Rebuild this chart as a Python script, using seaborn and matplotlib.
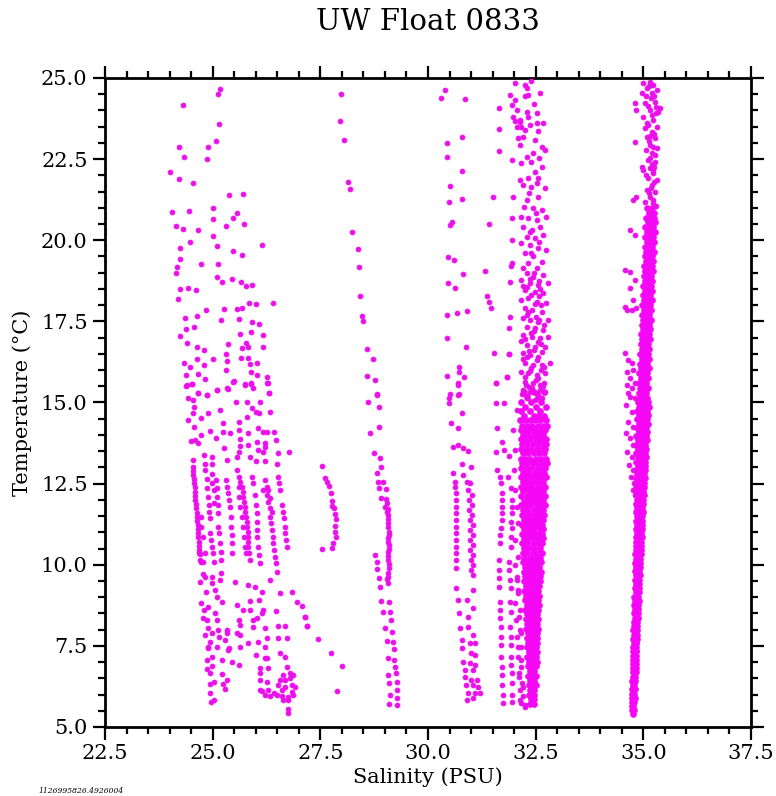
import matplotlib
matplotlib.use('Agg')
import matplotlib.pyplot as plt
import pandas as pd
import seaborn as sns
from matplotlib.ticker import MultipleLocator, FormatStrFormatter

# ----- values: (salinity PSU, temperature C) -----

# fresh profiles, 24-27 PSU, upper part
group_a_top = [
    (25.17, 24.65), (25.12, 24.50), (24.30, 24.17), (25.15, 23.58), (25.07, 23.07),
    (24.21, 22.86), (24.90, 22.86), (24.33, 22.56), (24.88, 22.49), (24.01, 22.10),
    (24.21, 21.88), (24.54, 21.75), (25.38, 21.39), (25.71, 21.43), (24.06, 20.88),
    (24.44, 20.90), (25.01, 21.00), (25.01, 20.65), (25.57, 20.83), (25.47, 20.70),
    (25.31, 20.44), (25.73, 20.51), (24.14, 20.45), (24.30, 20.35), (24.67, 20.32),
    (25.01, 20.14), (24.48, 19.95), (25.09, 19.82), (26.15, 19.86), (24.23, 19.77),
    (25.47, 19.66), (25.67, 19.56), (24.23, 19.42), (24.73, 19.28), (25.12, 19.27),
    (24.18, 19.19), (24.16, 19.00), (25.10, 18.86), (25.21, 18.70), (25.46, 18.82),
    (25.66, 18.71), (25.78, 18.58), (25.91, 18.62), (24.25, 18.49), (24.43, 18.54),
    (24.62, 18.47), (24.19, 18.19), (25.85, 18.08), (26.00, 18.03), (26.40, 18.07),
    (24.84, 17.86), (25.26, 17.89), (25.57, 17.87), (25.67, 17.90), (24.36, 17.60),
    (24.64, 17.68), (25.19, 17.54), (25.60, 17.56), (24.38, 17.26), (24.56, 17.34),
    (25.91, 17.48), (26.08, 17.43), (24.25, 17.05), (25.63, 17.11), (25.88, 17.18),
    (26.18, 17.07), (24.40, 16.82), (25.35, 16.80), (25.77, 16.84), (24.63, 16.70),
    (24.80, 16.62), (25.68, 16.69), (25.82, 16.71), (26.18, 16.72), (25.32, 16.49),
    (24.63, 16.35), (25.00, 16.33), (25.33, 16.29), (25.66, 16.38), (25.83, 16.37),
    (24.33, 16.21), (24.47, 16.08), (24.81, 16.15), (25.32, 16.01), (25.87, 16.19),
    (26.02, 16.23), (24.37, 15.86), (24.65, 15.87), (25.88, 15.95), (26.04, 15.85),
    (26.25, 15.78), (24.83, 15.73), (24.39, 15.50), (24.51, 15.56), (25.49, 15.66),
    (25.74, 15.56), (25.90, 15.61), (26.29, 15.60), (25.94, 15.44), (24.66, 15.28),
    (24.88, 15.24), (25.09, 15.39), (25.35, 15.41), (26.31, 15.30),
    (24.40, 15.54), (24.51, 15.57), (24.67, 15.28), (24.88, 15.23), (25.09, 15.40),
    (25.34, 15.44), (25.48, 15.64), (25.74, 15.54), (25.89, 15.57), (26.25, 15.59),
    (24.43, 15.13), (24.55, 15.08), (25.54, 15.03), (25.79, 15.03), (26.11, 15.03),
    (26.31, 15.28), (24.57, 14.85), (25.17, 14.77), (25.91, 14.82), (26.01, 14.72),
    (26.08, 14.67), (26.33, 14.72), (24.55, 14.67), (24.74, 14.51), (24.90, 14.67),
    (24.43, 14.46), (25.23, 14.38), (25.60, 14.41), (25.79, 14.56), (24.57, 14.25),
    (25.23, 14.10), (25.40, 14.05), (25.60, 14.15), (25.81, 14.05), (26.06, 14.20),
    (26.18, 14.10), (26.27, 14.08), (26.43, 14.10), (24.94, 14.13), (24.74, 14.00),
    (24.49, 13.81), (24.60, 13.84), (24.65, 13.74), (25.07, 13.90), (25.63, 13.86),
    (26.02, 13.79), (26.22, 13.74), (26.47, 13.84), (24.81, 13.38), (24.98, 13.33),
    (25.27, 13.59), (25.63, 13.66), (25.83, 13.69), (26.05, 13.54), (26.18, 13.48),
    (26.22, 13.64), (26.52, 13.43), (26.77, 13.48), (25.62, 13.48), (24.55, 13.23),
    (24.82, 13.12), (24.98, 13.10), (25.33, 13.23), (25.56, 13.33), (25.87, 13.33),
    (26.01, 13.20), (26.22, 13.20), (26.50, 13.10),
]

# the vertical streaks of those profiles, 10-13 C
group_a_mid = [
    (24.54, 13.02), (24.55, 12.90), (24.55, 12.77), (24.56, 12.63), (24.57, 12.51),
    (24.58, 12.39), (24.58, 12.25), (24.59, 12.12), (24.60, 11.99), (24.61, 11.87),
    (24.62, 11.74), (24.63, 11.60), (24.64, 11.48), (24.64, 11.36), (24.65, 11.22),
    (24.66, 11.09), (24.66, 10.97), (24.67, 10.84), (24.68, 10.71), (24.68, 10.58),
    (24.69, 10.45), (24.70, 10.33), (24.70, 10.15), (24.72, 11.48), (24.74, 11.17),
    (24.77, 10.87), (24.68, 10.35), (24.72, 10.09),
    (24.82, 12.92), (24.98, 12.80), (24.86, 12.63), (24.98, 12.53), (24.88, 12.35),
    (25.02, 12.30), (24.90, 12.10), (24.92, 11.84), (25.03, 11.89), (24.92, 11.64),
    (24.94, 11.43), (24.94, 10.97), (24.96, 10.76), (24.98, 10.56), (25.00, 10.35),
    (25.02, 10.09), (24.82, 10.35), (24.78, 10.09),
    (25.07, 12.61), (25.09, 12.35), (25.11, 12.10), (25.12, 11.84), (25.13, 11.58),
    (25.13, 11.17), (25.15, 10.97), (25.17, 10.66), (25.19, 10.40), (25.19, 10.15),
    (25.31, 12.61), (25.34, 12.41), (25.36, 12.20), (25.39, 11.99), (25.40, 11.79),
    (25.42, 11.48), (25.42, 11.17), (25.44, 10.92), (25.44, 10.66), (25.44, 10.35),
    (25.57, 12.92), (25.60, 12.71), (25.63, 12.56), (25.67, 12.41), (25.70, 12.25),
    (25.71, 12.10), (25.73, 11.94), (25.74, 11.79), (25.76, 11.64), (25.77, 11.48),
    (25.79, 11.33), (25.79, 11.17), (25.81, 11.02), (25.81, 10.87), (25.82, 10.71),
    (25.83, 10.56), (25.85, 10.35), (25.87, 10.15), (25.60, 12.41), (25.62, 12.10),
    (25.63, 11.79), (25.67, 11.48), (25.70, 11.17), (25.73, 10.87), (25.75, 10.56),
    (25.77, 10.35),
    (25.91, 12.71), (25.94, 12.51), (25.98, 12.15), (26.01, 11.84), (26.02, 11.58),
    (26.02, 11.33), (26.04, 11.07), (26.04, 10.87), (26.06, 10.56), (26.08, 10.30),
    (26.10, 10.04), (26.16, 12.30),
    (26.22, 12.61), (26.25, 12.41), (26.27, 12.15), (26.29, 11.94), (26.32, 11.74),
    (26.33, 11.48), (26.35, 11.28), (26.37, 11.07), (26.39, 10.87), (26.41, 10.66),
    (26.42, 10.45), (26.45, 10.25), (26.47, 10.04), (26.49, 9.79), (26.29, 12.30),
    (26.33, 12.05), (26.37, 11.64),
    (26.52, 12.71), (26.55, 12.51), (26.56, 12.30), (26.60, 11.84), (26.64, 11.64),
    (26.66, 11.43), (26.68, 11.17), (26.68, 10.97), (26.70, 10.76), (26.72, 10.56),
]

# same profiles below 10 C
group_a_low = [
    (24.71, 9.48), (24.82, 9.63), (24.98, 9.63), (25.19, 9.74), (25.52, 9.48),
    (25.83, 9.38), (25.98, 9.32), (26.14, 9.17), (26.33, 9.53), (26.56, 9.12),
    (26.84, 9.17), (24.85, 9.15), (25.05, 9.22), (25.21, 8.86), (25.56, 8.76),
    (25.87, 8.89), (26.08, 8.91), (26.18, 8.61), (26.47, 8.57), (26.95, 8.86),
    (27.07, 8.73), (24.74, 8.81), (24.81, 8.61), (24.78, 8.35), (25.09, 8.30),
    (25.33, 7.99), (25.63, 8.14), (25.94, 8.09), (26.04, 8.35), (26.22, 8.04),
    (26.52, 8.11), (26.68, 8.11), (27.14, 8.38), (27.18, 8.11), (24.90, 8.04),
    (24.82, 7.84), (24.94, 7.63), (25.15, 7.78), (25.33, 7.89), (25.63, 7.84),
    (25.83, 7.58), (26.06, 7.63), (26.25, 7.73), (26.52, 7.73), (26.72, 7.73),
    (24.90, 7.42), (25.38, 7.42), (26.01, 7.22), (26.22, 7.12), (26.56, 7.27),
    (26.68, 7.17), (24.98, 7.17), (24.88, 6.78), (24.98, 6.88), (25.21, 6.63),
    (25.44, 7.01), (25.60, 6.91), (26.10, 6.81), (26.29, 6.81), (26.64, 6.60),
    (26.86, 6.60), (24.94, 6.33), (25.23, 6.33), (25.29, 6.16), (26.10, 6.45),
    (26.27, 6.40), (26.52, 6.29), (26.68, 6.24), (26.84, 6.29), (26.56, 6.45),
    (26.80, 6.50), (24.94, 6.04), (24.96, 5.78), (25.02, 5.83), (26.14, 6.12),
    (26.22, 5.99), (26.33, 5.96), (26.49, 5.99), (26.60, 5.96), (26.74, 5.83),
    (26.74, 5.57), (26.74, 5.42), (26.87, 5.99), (26.91, 6.24),
    (24.78, 9.73), (24.98, 9.43), (25.09, 9.02), (25.17, 9.53), (24.90, 8.71),
    (25.05, 8.50), (25.13, 7.99), (24.86, 8.30), (24.98, 7.89), (24.90, 7.48),
    (25.09, 7.48), (24.86, 7.06), (25.21, 7.06), (24.94, 6.65), (25.02, 6.40),
    (25.33, 6.45), (25.36, 7.37), (25.29, 7.68), (25.60, 8.30), (25.71, 8.61),
    (25.57, 7.89), (25.63, 7.48), (25.87, 8.61), (25.94, 8.30), (26.14, 8.50),
    (26.22, 7.48), (26.25, 7.12), (26.10, 6.65), (26.10, 6.14), (26.29, 6.14),
    (26.42, 6.04), (26.60, 6.14), (26.68, 6.45), (26.72, 6.86), (26.80, 6.65),
    (26.64, 5.83), (26.84, 6.09), (26.76, 5.93),
]

# short arc near 27.7 PSU and loose points below it
group_b = [
    (27.53, 13.04), (27.61, 12.68), (27.65, 12.55), (27.69, 12.43), (27.74, 12.20),
    (27.78, 11.95), (27.76, 11.81), (27.82, 11.74), (27.83, 11.55), (27.86, 11.40),
    (27.85, 11.20), (27.84, 11.02), (27.86, 10.87), (27.80, 10.66), (27.78, 10.51),
    (27.55, 10.48), (27.14, 8.40), (27.20, 8.11), (27.45, 7.70), (27.75, 7.29),
    (28.01, 6.88), (27.88, 6.12),
]

# profile from 28 to 29.3 PSU
group_c = [
    (27.99, 24.50), (27.96, 23.67), (28.06, 23.09), (28.14, 21.80), (28.19, 21.57),
    (28.24, 20.26), (28.38, 19.73), (28.39, 19.17), (28.42, 18.28), (28.46, 17.67),
    (28.48, 17.51), (28.58, 16.65), (28.72, 16.34), (28.58, 15.82), (28.78, 15.69),
    (28.82, 15.25), (28.61, 15.03), (28.82, 15.23), (28.86, 14.85), (28.66, 14.07),
    (28.86, 14.23), (28.75, 13.45), (28.89, 13.28), (28.92, 13.02), (28.81, 12.84),
    (28.85, 12.56), (28.96, 12.56), (28.86, 12.35), (29.02, 12.33), (28.92, 12.05),
    (29.02, 12.02), (29.00, 11.79), (29.06, 11.71), (29.08, 11.53), (29.08, 11.28),
    (29.09, 11.02), (29.08, 10.81), (29.10, 10.61), (29.08, 10.40), (29.08, 10.15),
    (29.09, 9.89), (29.08, 9.63), (29.08, 9.45), (28.77, 10.30), (28.81, 10.09),
    (28.82, 9.86), (28.86, 9.58), (28.89, 9.32), (28.92, 8.89), (28.96, 8.55),
    (29.10, 8.86), (29.12, 8.55), (29.13, 8.30), (29.00, 8.04), (29.16, 7.94),
    (29.18, 7.63), (29.04, 7.65), (29.21, 7.39), (29.06, 7.14), (29.22, 7.06),
    (29.23, 6.84), (29.08, 6.60), (29.26, 6.65), (29.27, 6.40), (29.10, 6.35),
    (29.29, 6.14), (29.12, 5.98), (29.29, 5.88), (29.10, 5.71), (29.27, 5.68),
    (29.04, 11.90), (29.05, 11.62), (29.07, 11.40), (29.06, 11.15), (29.09, 10.92),
    (29.07, 10.70), (29.09, 10.50), (29.07, 10.27), (29.10, 10.02), (29.07, 9.76),
    (29.05, 9.55),
]

# profiles from 30.3 to 31.2 PSU
group_d = [
    (30.39, 24.63), (30.30, 24.39), (30.87, 24.34), (30.80, 23.19), (30.43, 23.00),
    (30.43, 22.56), (30.80, 22.13), (30.51, 21.68), (30.80, 21.26), (30.49, 21.19),
    (30.55, 20.55), (30.50, 20.46), (30.47, 19.49), (30.60, 19.39), (30.82, 18.96),
    (30.47, 18.69), (30.63, 18.52), (30.45, 17.70), (30.67, 17.75), (30.91, 17.82),
    (30.43, 17.00), (30.88, 16.70), (30.73, 16.10), (30.73, 15.95), (30.45, 15.82),
    (30.84, 15.79), (30.70, 15.59), (30.71, 15.25), (30.50, 15.25),
    (30.49, 15.13), (30.49, 14.97), (30.70, 15.54), (30.70, 15.23), (30.80, 14.67),
    (30.53, 14.38), (30.70, 14.20), (30.57, 13.64), (30.70, 13.69), (30.82, 13.59),
    (30.92, 13.49), (30.78, 13.12), (30.99, 13.02), (30.59, 12.82), (30.82, 12.77),
    (30.63, 12.56), (30.90, 12.56), (30.98, 12.51),
    (30.63, 12.41), (30.64, 12.20), (30.64, 11.99), (30.64, 11.79), (30.65, 11.58),
    (30.65, 11.38), (30.65, 11.17), (30.65, 10.97), (30.66, 10.76), (30.66, 10.56),
    (30.66, 10.35), (30.66, 10.15), (30.66, 9.90),
    (30.93, 12.30), (31.02, 12.15), (30.95, 11.99), (31.03, 11.84), (30.96, 11.69),
    (31.03, 11.53), (30.97, 11.38), (31.04, 11.22), (30.97, 11.07), (31.04, 10.92),
    (30.98, 10.76), (31.05, 10.61), (30.98, 10.45), (31.05, 10.30), (30.99, 10.15),
    (31.05, 9.99), (30.99, 9.84), (31.05, 9.68),
    (30.66, 9.27), (31.05, 9.22), (30.70, 8.91), (30.90, 8.91), (30.73, 8.50),
    (31.04, 8.66), (30.94, 8.40), (30.74, 8.04), (30.94, 8.09), (31.04, 7.84),
    (30.78, 7.68), (30.97, 7.58), (31.09, 7.58), (30.78, 7.42), (30.99, 7.27),
    (31.09, 7.22), (30.82, 7.01), (30.97, 6.96), (31.09, 6.91), (30.86, 6.76),
    (31.05, 6.76), (30.86, 6.55), (30.99, 6.45), (31.13, 6.45), (30.88, 6.29),
    (31.05, 6.29), (31.17, 6.24), (30.94, 6.04), (31.09, 6.04), (31.21, 6.04),
    (30.90, 5.83), (31.05, 5.88),
]

# profiles from 31.3 to 31.95 PSU
group_e = [
    (31.64, 24.07), (31.64, 23.42), (31.64, 22.75), (31.50, 21.34), (31.42, 20.49),
    (31.33, 19.04), (31.38, 18.28), (31.41, 18.11), (31.46, 17.92), (31.87, 17.29),
    (31.54, 16.52), (31.87, 16.49), (31.84, 15.80), (31.59, 15.61),
    (31.59, 15.59), (31.58, 14.99), (31.77, 14.99), (31.61, 14.20), (31.71, 13.79),
    (31.59, 13.48), (31.77, 13.54), (31.89, 13.35), (31.61, 12.92), (31.67, 12.71),
    (31.86, 12.69), (31.69, 12.51), (31.92, 12.35), (31.71, 12.20), (31.71, 11.99),
    (31.94, 11.99), (31.71, 11.79), (31.94, 11.79), (31.71, 11.58), (31.94, 11.58),
    (31.71, 11.38), (31.92, 11.33), (31.70, 11.12), (31.94, 11.12), (31.67, 10.92),
    (31.92, 10.87), (31.67, 10.66), (31.92, 10.56), (31.66, 10.15), (31.89, 10.09),
    (31.66, 9.84), (31.89, 9.84), (31.66, 9.58), (31.90, 9.53), (31.66, 9.32),
    (31.92, 9.27), (31.67, 8.86), (31.90, 8.86), (31.67, 8.61), (31.92, 8.55),
    (31.67, 8.35), (31.90, 8.09), (31.69, 8.09), (31.70, 7.78), (31.92, 7.78),
    (31.70, 7.53), (31.92, 7.53), (31.70, 7.17), (31.92, 7.17), (31.71, 6.86),
    (31.92, 6.91), (31.71, 6.60), (31.94, 6.65), (31.71, 6.29), (31.94, 6.35),
    (31.73, 5.99), (31.94, 5.99), (31.73, 5.73), (31.94, 5.78),
]

# 32.5 PSU column, upper part and loose points at its left edge
group_f_top = [
    (32.25, 24.78), (32.29, 24.68), (32.02, 24.84), (32.33, 24.48), (31.90, 24.48),
    (31.94, 24.17), (32.06, 24.01), (31.98, 23.81), (32.02, 23.69), (32.14, 23.65),
    (32.29, 23.96), (32.33, 23.81), (32.52, 23.91), (32.68, 23.60), (32.17, 23.50),
    (32.37, 23.55), (32.52, 23.60), (32.56, 23.38), (32.25, 23.40), (32.10, 23.14),
    (32.14, 22.94), (32.21, 23.19), (32.64, 22.88), (32.72, 22.78), (32.29, 22.58),
    (32.17, 22.37), (31.94, 22.47), (32.64, 22.27), (32.25, 24.43), (32.02, 24.32),
    (32.14, 23.70), (32.06, 23.50), (32.40, 24.90), (32.45, 24.20), (32.60, 24.55),
    (32.44, 22.70), (32.48, 23.10),
    (32.48, 22.11), (32.14, 21.86), (32.33, 21.91), (32.56, 21.91), (32.21, 21.70),
    (32.39, 21.65), (32.72, 21.60), (31.98, 21.34), (32.29, 21.24), (32.56, 21.34),
    (32.24, 21.04), (32.44, 20.98), (32.64, 20.93), (32.17, 20.73), (32.33, 20.68),
    (32.52, 20.62), (32.75, 20.73), (31.94, 20.68), (32.21, 20.42), (32.41, 20.32),
    (32.60, 20.42), (32.29, 20.11), (32.48, 20.06), (32.68, 20.16), (32.17, 19.90),
    (32.37, 19.85), (32.56, 19.75), (32.75, 19.70), (32.25, 19.60), (32.44, 19.50),
    (31.94, 19.29), (32.33, 19.29), (32.64, 19.34), (32.21, 19.14), (32.52, 19.14),
    (31.96, 20.00), (31.93, 19.22), (31.90, 18.72),
    (32.29, 18.98), (32.44, 18.88), (32.68, 18.93), (32.17, 18.77), (32.37, 18.67),
    (32.56, 18.62), (32.79, 18.67), (32.25, 18.47), (32.48, 18.42), (32.68, 18.36),
    (32.17, 18.16), (32.33, 18.21), (32.52, 18.11), (32.75, 18.06), (32.25, 17.90),
    (32.41, 17.85), (32.64, 17.80), (31.90, 17.65), (32.21, 17.59), (32.37, 17.54),
    (32.56, 17.49), (32.79, 17.54), (32.29, 17.34), (32.48, 17.29), (32.68, 17.24),
    (32.21, 17.08), (32.41, 17.03), (32.60, 16.98), (32.79, 17.03), (31.87, 16.51),
    (32.29, 16.77), (32.48, 16.72), (32.72, 16.72), (32.21, 16.52), (32.37, 16.47),
    (32.56, 16.41), (32.25, 16.21), (32.44, 16.16), (32.64, 16.16), (32.83, 16.21),
    (32.17, 15.95), (32.33, 15.90), (32.52, 15.85), (32.72, 15.90), (31.83, 15.80),
    (32.25, 15.64), (32.44, 15.59), (32.60, 15.54), (32.21, 15.39), (32.37, 15.33),
    (32.52, 15.28), (32.72, 15.33), (32.29, 15.13), (32.48, 15.08), (32.64, 15.13),
    (32.36, 18.80), (32.58, 18.75), (32.20, 18.60), (32.60, 18.50), (32.40, 18.30),
    (32.62, 18.00), (32.30, 17.70), (32.50, 17.65), (32.70, 17.40), (32.40, 17.15),
    (32.15, 16.90), (32.55, 16.85), (32.35, 16.60), (32.65, 16.55), (32.20, 16.35),
    (32.52, 16.30), (32.40, 16.05), (32.62, 16.00), (32.25, 15.80), (32.50, 15.70),
    (32.70, 15.60), (32.35, 15.47), (32.60, 15.40), (32.18, 15.25),
    (32.30, 15.20), (32.56, 15.22), (32.42, 15.45), (32.66, 15.50), (32.28, 15.55),
    (32.55, 15.75), (32.38, 15.98), (32.70, 16.10), (32.30, 16.40), (32.47, 16.62),
    (32.62, 16.80), (32.26, 16.95), (32.45, 17.20), (32.58, 17.55), (32.33, 17.80),
    (32.49, 18.05), (32.58, 18.28), (32.30, 18.55), (32.47, 19.00), (32.40, 19.60),
    (32.58, 19.95), (32.36, 20.25), (32.50, 20.85), (32.34, 21.45), (32.52, 21.75),
    (32.40, 22.40), (32.58, 22.55),
]

group_f_edge = [
    (32.02, 12.30), (32.06, 11.79), (32.10, 11.28), (32.03, 10.76), (32.08, 10.25),
    (32.06, 9.63), (32.10, 9.22), (32.02, 8.81), (32.11, 8.40), (32.14, 7.99),
    (32.06, 7.78), (32.16, 7.47), (32.10, 7.17), (32.17, 6.86), (32.11, 6.55),
    (32.19, 6.35), (32.14, 6.14), (32.21, 5.94), (32.16, 5.73), (32.25, 5.63),
    (32.02, 13.53), (31.98, 14.15), (32.06, 14.77), (32.00, 12.92), (32.02, 9.99),
    (32.06, 9.53), (32.10, 9.12), (32.14, 8.61), (32.04, 8.30), (32.15, 7.89),
    (32.10, 7.47), (32.17, 7.06), (32.12, 6.65), (32.20, 6.24), (32.14, 5.83),
    (32.25, 5.68),
]

# dense core of the 32.5 PSU column: one temperature per row, salinities in the row
f_core_temp = [
    15.32, 15.18, 15.03, 14.87, 14.74, 14.58, 14.45, 14.29, 14.14, 14.01,
    13.86, 13.71, 13.57, 13.43, 13.27, 13.13, 12.98, 12.84, 12.69, 12.55,
    12.41, 12.26, 12.11, 11.97, 11.83, 11.68, 11.52, 11.39, 11.24, 11.09,
    10.95, 10.81, 10.66, 10.52, 10.37, 10.22,
    10.08, 9.93, 9.78, 9.64, 9.49, 9.35, 9.20, 9.05, 8.91, 8.76,
    8.62, 8.47, 8.32, 8.18, 8.03, 7.89, 7.74, 7.60, 7.45, 7.30,
    7.16, 7.01, 6.87, 6.72, 6.57, 6.43, 6.28, 6.14, 5.99, 5.85, 5.70,
]
f_core_sal = [
    [32.22, 32.47, 32.70],
    [32.30, 32.56],
    [32.17, 32.40, 32.63],
    [32.26, 32.50, 32.74],
    [32.15, 32.38, 32.60],
    [32.22, 32.45, 32.56, 32.69],
    [32.14, 32.25, 32.37, 32.49, 32.61, 32.74],
    [32.19, 32.30, 32.42, 32.55, 32.67, 32.76],
    [32.16, 32.27, 32.39, 32.51, 32.63, 32.72],
    [32.21, 32.33, 32.45, 32.57, 32.68],
    [32.15, 32.26, 32.38, 32.50, 32.62, 32.74],
    [32.19, 32.31, 32.43, 32.55, 32.66, 32.75],
    [32.16, 32.27, 32.40, 32.52, 32.64, 32.72],
    [32.21, 32.33, 32.45, 32.57, 32.69],
    [32.15, 32.26, 32.38, 32.50, 32.62, 32.73],
    [32.19, 32.31, 32.43, 32.56, 32.67, 32.76],
    [32.16, 32.28, 32.40, 32.52, 32.64, 32.72],
    [32.21, 32.33, 32.46, 32.58, 32.69],
    [32.16, 32.27, 32.39, 32.51, 32.63, 32.73],
    [32.20, 32.32, 32.44, 32.56, 32.67],
    [32.17, 32.28, 32.40, 32.52, 32.64, 32.72],
    [32.21, 32.34, 32.46, 32.58, 32.68],
    [32.17, 32.29, 32.41, 32.53, 32.65, 32.72],
    [32.22, 32.34, 32.46, 32.58, 32.67],
    [32.17, 32.28, 32.40, 32.52, 32.63, 32.71],
    [32.21, 32.33, 32.45, 32.57, 32.67],
    [32.18, 32.29, 32.41, 32.53, 32.64, 32.70],
    [32.22, 32.34, 32.46, 32.58, 32.67],
    [32.18, 32.30, 32.42, 32.54, 32.64],
    [32.23, 32.35, 32.47, 32.59, 32.67],
    [32.19, 32.30, 32.42, 32.54, 32.64],
    [32.22, 32.34, 32.46, 32.58, 32.66],
    [32.19, 32.31, 32.43, 32.55, 32.64],
    [32.23, 32.35, 32.47, 32.59],
    [32.20, 32.31, 32.43, 32.55, 32.64],
    [32.24, 32.36, 32.48, 32.59],
    [32.21, 32.31, 32.42, 32.53, 32.62],
    [32.25, 32.36, 32.47, 32.58],
    [32.22, 32.32, 32.43, 32.54, 32.63],
    [32.26, 32.37, 32.48, 32.59],
    [32.23, 32.33, 32.44, 32.55, 32.60],
    [32.27, 32.38, 32.49, 32.58],
    [32.24, 32.34, 32.45, 32.55],
    [32.28, 32.39, 32.50, 32.58],
    [32.25, 32.35, 32.46, 32.55],
    [32.29, 32.40, 32.51, 32.57],
    [32.26, 32.36, 32.47, 32.55],
    [32.30, 32.41, 32.52],
    [32.27, 32.37, 32.48, 32.56],
    [32.31, 32.42, 32.53],
    [32.28, 32.38, 32.49, 32.55],
    [32.32, 32.43, 32.53],
    [32.29, 32.39, 32.50, 32.54],
    [32.33, 32.44, 32.53],
    [32.30, 32.40, 32.51],
    [32.34, 32.45, 32.53],
    [32.31, 32.41, 32.51],
    [32.35, 32.46, 32.52],
    [32.32, 32.42, 32.51],
    [32.36, 32.47],
    [32.33, 32.43, 32.50],
    [32.37, 32.47],
    [32.34, 32.44, 32.50],
    [32.38, 32.47],
    [32.35, 32.45],
    [32.39, 32.47],
    [32.37, 32.45],
]

# 35 PSU column, upper part and loose points on its left side
group_g_top = [
    (35.00, 24.84), (35.15, 24.89), (35.23, 24.78), (35.08, 24.68), (35.31, 24.63),
    (34.96, 24.53), (35.19, 24.53), (35.06, 24.43), (35.04, 24.22), (35.27, 24.27),
    (35.39, 24.07), (35.15, 24.02), (35.29, 23.91), (35.00, 23.81), (35.23, 23.71),
    (35.11, 23.55), (35.31, 23.50), (35.04, 23.45), (35.19, 23.35), (35.08, 23.19),
    (35.27, 23.14), (35.15, 22.94), (35.22, 22.88), (35.31, 22.83), (35.06, 22.78),
    (35.19, 22.68), (35.11, 22.47), (35.27, 22.42), (35.25, 22.27), (35.15, 22.22),
    (35.00, 22.17), (35.23, 22.06), (35.11, 21.91), (35.31, 21.86), (35.19, 21.70),
    (35.17, 21.60), (35.08, 21.55), (35.27, 21.50), (35.15, 21.34), (35.04, 21.19),
    (35.23, 21.14),
    (35.12, 24.75), (35.25, 24.45), (35.10, 24.15), (35.34, 23.95), (35.20, 23.85),
    (35.08, 23.62), (35.25, 23.28), (35.13, 23.05), (35.28, 22.62), (35.16, 22.55),
    (35.20, 22.35), (35.07, 22.00), (35.25, 21.78), (35.12, 21.45), (35.22, 21.25),
    (35.30, 21.05), (35.18, 24.38), (35.30, 24.10), (35.16, 23.20), (35.23, 22.15),
]

group_g_edge = [
    (34.81, 24.22), (34.84, 24.02), (34.81, 23.04), (34.96, 22.27), (34.77, 21.24),
    (34.84, 21.34), (34.69, 20.32), (34.81, 20.16), (34.57, 19.08), (34.69, 19.03),
    (34.81, 18.77), (34.69, 18.52), (34.77, 18.16), (34.57, 17.95), (34.61, 17.85),
    (34.73, 17.85), (34.84, 17.90), (34.57, 16.52), (34.65, 16.31), (34.73, 16.21),
    (34.77, 16.00), (34.61, 15.95), (34.69, 15.75), (34.81, 15.59), (34.73, 15.44),
    (34.65, 15.28), (34.81, 15.13), (34.63, 15.54), (34.69, 15.18), (34.60, 14.92),
    (34.73, 14.72), (34.65, 14.41), (34.77, 14.26), (34.60, 14.05), (34.69, 13.90),
    (34.75, 13.69), (34.63, 13.48), (34.73, 13.33), (34.67, 13.07), (34.77, 12.92),
    (34.71, 12.71), (34.78, 12.51), (34.75, 12.30), (34.81, 12.15),
]

# dense core of the 35 PSU column
g_core_temp = [
    21.00, 20.85, 20.70, 20.55, 20.40, 20.25, 20.10, 19.95, 19.80, 19.65,
    19.50, 19.35, 19.20, 19.05, 18.90, 18.75, 18.60, 18.45, 18.30, 18.15,
    18.00, 17.85, 17.70, 17.55, 17.40, 17.25, 17.10, 16.95, 16.80, 16.65,
    16.50, 16.35, 16.20, 16.05, 15.90, 15.75, 15.60, 15.45, 15.30, 15.15,
    15.00, 14.87, 14.74, 14.61, 14.48, 14.35, 14.22, 14.09, 13.96, 13.83,
    13.70, 13.57, 13.44, 13.31, 13.18, 13.05, 12.92, 12.79, 12.66, 12.53,
    12.40, 12.27, 12.14, 12.01, 11.88, 11.75, 11.62, 11.49, 11.36, 11.23,
    11.10, 10.97, 10.84, 10.71, 10.58, 10.45, 10.32, 10.19, 10.06,
    9.93, 9.80, 9.67, 9.54, 9.41, 9.28, 9.15, 9.02, 8.89, 8.76,
    8.63, 8.50, 8.37, 8.24, 8.11, 7.98, 7.85, 7.72, 7.59, 7.46,
    7.33, 7.20, 7.07, 6.94, 6.81, 6.68, 6.55, 6.42, 6.29, 6.16,
    6.03, 5.90, 5.77, 5.64, 5.51, 5.40,
]
g_core_sal = [
    [35.09, 35.20], [35.13, 35.24], [35.06, 35.15, 35.24],
    [35.10, 35.19, 35.27], [35.05, 35.14, 35.23], [35.09, 35.18, 35.26],
    [35.04, 35.13, 35.22], [35.08, 35.17, 35.25], [35.04, 35.12, 35.21],
    [35.07, 35.16, 35.24], [35.03, 35.11, 35.20], [35.06, 35.15, 35.23],
    [35.02, 35.10, 35.19], [35.05, 35.14, 35.22], [35.01, 35.09, 35.18],
    [35.04, 35.13, 35.21], [35.00, 35.08, 35.17], [35.03, 35.12, 35.20],
    [34.99, 35.07, 35.16], [35.02, 35.11, 35.19],
    [34.98, 35.06, 35.15], [35.01, 35.10, 35.18], [34.97, 35.05, 35.14],
    [35.00, 35.09, 35.17], [34.96, 35.04, 35.13], [34.99, 35.08, 35.16],
    [34.95, 35.03, 35.12], [34.98, 35.07, 35.15], [34.94, 35.02, 35.11],
    [34.97, 35.06, 35.14], [34.93, 35.01, 35.10], [34.96, 35.05, 35.13],
    [34.92, 35.00, 35.09], [34.95, 35.04, 35.12], [34.91, 34.99, 35.08],
    [34.94, 35.03, 35.11], [34.90, 34.98, 35.07], [34.93, 35.02, 35.10],
    [34.89, 34.97, 35.06], [34.92, 35.01, 35.09],
    [34.87, 34.95, 35.03, 35.10], [34.91, 34.99, 35.07, 35.12],
    [34.86, 34.94, 35.02, 35.09], [34.90, 34.98, 35.06, 35.11],
    [34.85, 34.93, 35.01, 35.08], [34.89, 34.97, 35.05, 35.10],
    [34.85, 34.93, 35.01, 35.07], [34.89, 34.97, 35.05, 35.09],
    [34.84, 34.92, 35.00, 35.06], [34.88, 34.96, 35.04, 35.08],
    [34.84, 34.92, 35.00, 35.05], [34.88, 34.96, 35.03, 35.07],
    [34.83, 34.91, 34.99, 35.05], [34.87, 34.95, 35.03, 35.06],
    [34.83, 34.91, 34.99, 35.04], [34.87, 34.95, 35.02, 35.05],
    [34.82, 34.90, 34.98, 35.03], [34.86, 34.94, 35.02],
    [34.82, 34.90, 34.98, 35.03], [34.86, 34.94, 35.01],
    [34.82, 34.90, 34.97, 35.02],
    [34.85, 34.93, 35.00], [34.82, 34.89, 34.96, 35.01], [34.85, 34.93, 34.99],
    [34.82, 34.89, 34.96, 35.00], [34.85, 34.92, 34.98], [34.82, 34.89, 34.95, 34.99],
    [34.85, 34.92, 34.97], [34.82, 34.88, 34.94, 34.98], [34.85, 34.91, 34.96],
    [34.82, 34.88, 34.94, 34.97], [34.85, 34.91, 34.95], [34.82, 34.88, 34.93, 34.96],
    [34.84, 34.90, 34.95], [34.82, 34.87, 34.92, 34.95], [34.84, 34.90, 34.94],
    [34.81, 34.87, 34.92, 34.94], [34.84, 34.89, 34.93], [34.81, 34.86, 34.91, 34.93],
    [34.83, 34.88, 34.92], [34.81, 34.86, 34.91], [34.83, 34.88, 34.92],
    [34.80, 34.85, 34.90], [34.82, 34.87, 34.91], [34.80, 34.85, 34.89],
    [34.82, 34.86, 34.90], [34.79, 34.84, 34.88], [34.81, 34.86, 34.89],
    [34.79, 34.84, 34.88], [34.80, 34.85, 34.88], [34.78, 34.83, 34.87],
    [34.80, 34.84, 34.87], [34.78, 34.82, 34.86], [34.79, 34.84, 34.86],
    [34.77, 34.82, 34.85], [34.78, 34.83, 34.85], [34.77, 34.81, 34.85],
    [34.78, 34.83, 34.84], [34.76, 34.80, 34.84], [34.77, 34.82, 34.84],
    [34.76, 34.80, 34.83], [34.77, 34.81, 34.83], [34.75, 34.79, 34.83],
    [34.76, 34.80, 34.82], [34.75, 34.79, 34.82], [34.76, 34.80],
    [34.74, 34.78, 34.81], [34.75, 34.79], [34.74, 34.78, 34.81],
    [34.74, 34.78], [34.73, 34.77, 34.80], [34.74, 34.78],
    [34.73, 34.77], [34.74, 34.78], [34.75],
]

# ----- monta as tabelas -----
loose = (group_a_top + group_a_mid + group_a_low + group_b + group_c + group_d
         + group_e + group_f_top + group_f_edge + group_g_top + group_g_edge)
df = pd.DataFrame(loose, columns=['Salinity', 'Temperature'])

core = []
for temps, rows in [(f_core_temp, f_core_sal), (g_core_temp, g_core_sal)]:
    for t, row in zip(temps, rows):
        core += [(s, t) for s in row]
df_core = pd.DataFrame(core, columns=['Salinity', 'Temperature'])

# ----- grafico -----
sns.set_style('ticks')
plt.rcParams['font.family'] = ['DejaVu Serif']
plt.rcParams['text.color'] = 'black'
plt.rcParams['axes.labelcolor'] = 'black'

fig = plt.figure(figsize=(7.76, 7.96), dpi=100)
ax = fig.add_axes([105 / 776, 1 - 727 / 796, 646 / 776, 649 / 796])

sns.scatterplot(data=df_core, x='Salinity', y='Temperature', ax=ax, s=19,
                color='#f20af2', edgecolor='#ff00ff', linewidth=0.4, zorder=3)
sns.scatterplot(data=df, x='Salinity', y='Temperature', ax=ax, s=12,
                color='#dc1adc', edgecolor='#ff00ff', linewidth=0.6, zorder=4)

ax.set_xlim(22.5, 37.5)
ax.set_ylim(5, 25)
ax.xaxis.set_major_locator(MultipleLocator(2.5))
ax.xaxis.set_minor_locator(MultipleLocator(0.5))
ax.yaxis.set_major_locator(MultipleLocator(2.5))
ax.yaxis.set_minor_locator(MultipleLocator(0.5))
ax.xaxis.set_major_formatter(FormatStrFormatter('%.1f'))
ax.yaxis.set_major_formatter(FormatStrFormatter('%.1f'))
ax.tick_params(which='both', direction='out', top=True, right=True,
               width=1.6, color='black', labelcolor='black', labelsize=15)
ax.tick_params(which='major', length=9)
ax.tick_params(which='minor', length=5)
for sp in ax.spines.values():
    sp.set_visible(True)
    sp.set_linewidth(2)
    sp.set_color('black')

ax.set_xlabel('Salinity (PSU)', fontsize=15, labelpad=3)
ax.set_ylabel('Temperature (°C)', fontsize=15, labelpad=6)
fig.text(0.5515, 0.972, 'UW Float 0833', ha='center', va='center', fontsize=21)
fig.text(0.05, 0.004, '1126995826.4926004', fontsize=5.5, style='italic')

fig.savefig('out.png', dpi=100)
